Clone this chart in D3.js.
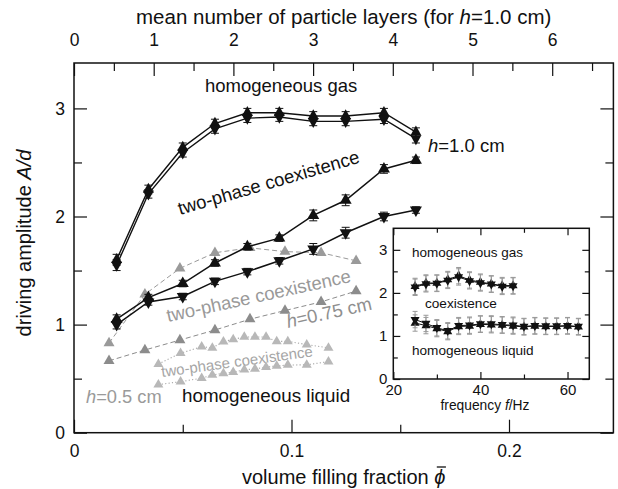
<!DOCTYPE html>
<html><head><meta charset="utf-8">
<script src="https://cdn.jsdelivr.net/npm/d3@7"></script>
<style>
body{margin:0;background:#fff}
svg{display:block}
text{font-family:"Liberation Sans",Arial,Helvetica,sans-serif}
</style>
</head><body>
<svg id="c" width="618" height="489"></svg>
<script>
// ---------- main panel data (h = 1.0 cm, black) ----------
const phiH10 = [0.0196, 0.0342, 0.0500, 0.0648, 0.0797, 0.0944, 0.1100, 0.1249, 0.1425, 0.1572];
const gasUp    = [1.60, 2.25, 2.64, 2.86, 2.96, 2.96, 2.93, 2.93, 2.96, 2.78];
const gasDown  = [1.55, 2.21, 2.59, 2.81, 2.91, 2.92, 2.88, 2.88, 2.90, 2.72];
const gasErr   = [0.05, 0.04, 0.04, 0.04, 0.04, 0.04, 0.04, 0.04, 0.04, 0.04];
const coexUp   = [1.05, 1.25, 1.38, 1.57, 1.72, 1.80, 2.01, 2.15, 2.44, 2.52];
const coexDown = [1.00, 1.21, 1.26, 1.40, 1.49, 1.59, 1.70, 1.85, 2.00, 2.06];
const coexErr  = [0.04, 0.03, 0.03, 0.03, 0.03, 0.03, 0.05, 0.05, 0.04, 0.03];
// ---------- h = 0.75 cm (mid grey, dashed) ----------
const phiH075  = [0.0161, 0.0326, 0.0487, 0.0648, 0.0809, 0.0970, 0.1136, 0.1297];
const upH075   = [0.83, 1.28, 1.52, 1.665, 1.71, 1.675, 1.665, 1.59];
const lowH075  = [0.665, 0.765, 0.857, 0.95, 1.05, 1.13, 1.21, 1.31];
// ---------- h = 0.5 cm (light grey, dotted) ----------
const phiH05   = [0.0388, 0.0490, 0.0587, 0.0636, 0.0687, 0.0732, 0.0783, 0.0832, 0.0883, 0.0932, 0.0983, 0.1070, 0.1170];
const upH05    = [0.635, 0.735, 0.796, 0.785, 0.842, 0.864, 0.885, 0.885, 0.885, 0.845, 0.845, 0.815, 0.785];
const lowH05   = [0.445, 0.472, 0.505, 0.534, 0.549, 0.560, 0.582, 0.590, 0.606, 0.618, 0.626, 0.628, 0.658];
// ---------- inset data ----------
const fGas     = [25, 27.5, 30, 32.5, 35, 37.5, 40, 42.5, 45, 47.5];
const gasInUp  = [2.15, 2.23, 2.23, 2.31, 2.40, 2.30, 2.25, 2.21, 2.17, 2.17];
const gasInDn  = [2.13, 2.21, 2.22, 2.29, 2.37, 2.28, 2.23, 2.20, 2.15, 2.16];
const fLiq     = [25, 27.5, 30, 32.5, 35, 37.5, 40, 42.5, 45, 47.5, 50, 52.5, 55, 57.5, 60, 62.5];
const liqInUp  = [1.30, 1.24, 1.17, 1.10, 1.22, 1.23, 1.27, 1.26, 1.25, 1.23, 1.21, 1.23, 1.22, 1.22, 1.23, 1.21];
const liqInDn  = [1.38, 1.29, 1.19, 1.12, 1.24, 1.25, 1.28, 1.28, 1.26, 1.25, 1.22, 1.24, 1.23, 1.23, 1.24, 1.22];
const insetErr = 0.19;
// ---------- ticks ----------
const xTicksMain  = [0, 0.1, 0.2];
const xMinorMain  = [0.05, 0.15];
const yTicksMain  = [0, 1, 2, 3];
const yMinorMain  = [0.5, 1.5, 2.5];
const topTicks    = [0, 1, 2, 3, 4, 5, 6];
const topMinor    = [0.5, 1.5, 2.5, 3.5, 4.5, 5.5, 6.5];
const xTicksInset = [20, 40, 60];
const xMinorInset = [30, 50];
const yTicksInset = [0, 1, 2, 3];
const yMinorInset = [0.5, 1.5, 2.5];

const svg = d3.select("#c");
const L = 74, R = 613.4, T = 63, B = 432.7;
const x = d3.scaleLinear([0, 0.248], [L, R]);
const y = d3.scaleLinear([0, 3.42], [B, T]);
const xTop = d3.scaleLinear([0, (R - L) / 79.7], [L, R]);

function tri(up, w, h) {
  const a = -2 * h / 3, b = h / 3;
  return up ? `M0,${a}L${w},${b}L${-w},${b}Z` : `M0,${-a}L${w},${-b}L${-w},${-b}Z`;
}

function axisGroup(axis, tx, ty, fs) {
  const g = svg.append("g").attr("transform", `translate(${tx},${ty})`).call(axis);
  g.select(".domain").remove();
  g.selectAll("line").attr("stroke", "#111").attr("stroke-width", 1.2);
  g.selectAll("text").attr("font-size", fs).attr("fill", "#111").attr("font-family", '"Liberation Sans",Arial,sans-serif');
  return g;
}
const fmt = d3.format("");
// main axes
axisGroup(d3.axisBottom(x).tickValues(xTicksMain).tickSize(-13).tickPadding(12).tickFormat(d => d === 0 ? "0" : d3.format(".1f")(d)), 0, B, 17.5);
axisGroup(d3.axisBottom(x).tickValues(xMinorMain).tickSize(-8).tickFormat(""), 0, B, 0);
axisGroup(d3.axisTop(xTop).tickValues(topTicks).tickSize(-13).tickPadding(17).tickFormat(fmt), 0, T, 17.5);
axisGroup(d3.axisTop(xTop).tickValues(topMinor).tickSize(-8).tickFormat(""), 0, T, 0);
axisGroup(d3.axisLeft(y).tickValues(yTicksMain).tickSize(-13).tickPadding(9).tickFormat(fmt), L, 0, 17.5);
axisGroup(d3.axisLeft(y).tickValues(yMinorMain).tickSize(-8).tickFormat(""), L, 0, 0);
axisGroup(d3.axisRight(y).tickValues(yTicksMain).tickSize(-13).tickFormat(""), R, 0, 0);
axisGroup(d3.axisRight(y).tickValues(yMinorMain).tickSize(-8).tickFormat(""), R, 0, 0);
svg.append("rect").attr("x", L).attr("y", T).attr("width", R - L).attr("height", B - T)
  .attr("fill", "none").attr("stroke", "#111").attr("stroke-width", 1.5);

const plot = svg.append("g");
function series(target, xs, ys, opt) {
  const pts = xs.map((v, i) => [opt.sx(v), opt.sy(ys[i]), i]);
  target.append("path").attr("d", d3.line()(pts.map(p => [p[0], p[1]])))
    .attr("fill", "none").attr("stroke", opt.line).attr("stroke-width", opt.lw)
    .attr("stroke-dasharray", opt.dash || null);
  if (opt.err) {
    pts.forEach(p => {
      const e = typeof opt.err === "number" ? opt.err : opt.err[p[2]];
      const y1 = opt.sy(ys[p[2]] + e), y2 = opt.sy(ys[p[2]] - e), c = opt.cap;
      const g = target.append("g").attr("stroke", opt.errColor).attr("stroke-width", opt.elw || 1);
      g.append("line").attr("x1", p[0]).attr("x2", p[0]).attr("y1", y1).attr("y2", y2);
      g.append("line").attr("x1", p[0] - c).attr("x2", p[0] + c).attr("y1", y1).attr("y2", y1);
      g.append("line").attr("x1", p[0] - c).attr("x2", p[0] + c).attr("y1", y2).attr("y2", y2);
    });
  }
  target.append("g").selectAll("path").data(pts).join("path")
    .attr("transform", p => `translate(${p[0]},${p[1]})`)
    .attr("d", tri(opt.up, opt.w, opt.h)).attr("fill", opt.fill);
}
const mainS = {sx: x, sy: y};
// h = 0.5 cm
series(plot, phiH05, upH05, {...mainS, up: true, w: 5, h: 8.5, fill: "#b8b8b8", line: "#a8a8a8", lw: 1.1, dash: "1.2,2.2"});
series(plot, phiH05, lowH05, {...mainS, up: true, w: 5, h: 8.5, fill: "#b8b8b8", line: "#a8a8a8", lw: 1.1, dash: "1.2,2.2"});
// h = 0.75 cm
series(plot, phiH075, upH075, {...mainS, up: true, w: 5.5, h: 9.5, fill: "#9a9a9a", line: "#9a9a9a", lw: 1, dash: "5,3"});
series(plot, phiH075, lowH075, {...mainS, up: true, w: 5.5, h: 9.5, fill: "#8c8c8c", line: "#8c8c8c", lw: 1, dash: "5,3"});
// h = 1.0 cm
series(plot, phiH10, gasUp,   {...mainS, up: true,  w: 5.5, h: 10, fill: "#111", line: "#111", lw: 1.4, err: gasErr, errColor: "#111", cap: 4});
series(plot, phiH10, gasDown, {...mainS, up: false, w: 5.5, h: 10, fill: "#111", line: "#111", lw: 1.4, err: gasErr, errColor: "#111", cap: 4});
series(plot, phiH10, coexUp,  {...mainS, up: true,  w: 6, h: 10.5, fill: "#111", line: "#111", lw: 1.5, err: coexErr, errColor: "#111", cap: 4});
series(plot, phiH10, coexDown,{...mainS, up: false, w: 6, h: 10.5, fill: "#111", line: "#111", lw: 1.5, err: coexErr, errColor: "#111", cap: 4});

// annotations
function label(txt, px, py, fs, color, rot) {
  const t = svg.append("text").attr("transform", `translate(${px},${py}) rotate(${rot || 0})`)
    .attr("font-size", fs).attr("fill", color);
  txt.forEach(s => t.append("tspan").text(s[0]).attr("font-style", s[1] ? "italic" : null));
  return t;
}
label([["homogeneous gas"]], 205, 92, 18.5, "#111");
label([["h", 1], ["=1.0 cm"]], 428, 152, 18.5, "#111");
label([["two-phase coexistence"]], 180, 215, 18.5, "#111", -16.2);
label([["two-phase coexistence"]], 168, 322, 18.5, "#999", -12.3);
label([["h", 1], ["=0.75 cm"]], 288, 328, 18.5, "#8f8f8f", -12.3);
label([["two-phase coexistence"]], 162, 377, 15, "#a6a6a6", -7.8);
label([["h", 1], ["=0.5 cm"]], 86, 403, 18.3, "#9a9a9a");
label([["homogeneous liquid"]], 182, 402, 18.8, "#111");

// axis titles
svg.append("text").attr("x", (L + R) / 2).attr("y", 24).attr("text-anchor", "middle").attr("font-size", 20.5).attr("fill", "#111")
  .call(t => { t.append("tspan").text("mean number of particle layers (for "); t.append("tspan").text("h").attr("font-style", "italic"); t.append("tspan").text("=1.0 cm)"); });
const xt = svg.append("text").attr("x", (L + R) / 2).attr("y", 484).attr("text-anchor", "middle").attr("font-size", 20).attr("fill", "#111");
xt.append("tspan").text("volume filling fraction ");
xt.append("tspan").text("\u03D5").attr("font-style", "italic");
{
  const node = xt.node();
  const n = node.getNumberOfChars();
  const ext = node.getExtentOfChar(n - 1);
  svg.append("line").attr("x1", ext.x + 2.5).attr("x2", ext.x + ext.width + 0.5)
    .attr("y1", ext.y + 1).attr("y2", ext.y + 1).attr("stroke", "#111").attr("stroke-width", 1.3);
}
const yt = svg.append("text").attr("transform", `translate(31,${243}) rotate(-90)`).attr("text-anchor", "middle").attr("font-size", 20).attr("fill", "#111");
yt.append("tspan").text("driving amplitude ");
yt.append("tspan").text("A/d").attr("font-style", "italic");

// ---------- inset ----------
const iL = 393.3, iR = 589.3, iT = 228.3, iB = 379;
const xi = d3.scaleLinear([20, 65], [iL, iR]);
const yi = d3.scaleLinear([0, 3.5], [iB, iT]);
svg.append("rect").attr("x", iL).attr("y", iT).attr("width", iR - iL).attr("height", iB - iT).attr("fill", "#fff");
axisGroup(d3.axisBottom(xi).tickValues(xTicksInset).tickSize(-7).tickPadding(5).tickFormat(fmt), 0, iB, 15);
axisGroup(d3.axisBottom(xi).tickValues(xMinorInset).tickSize(-4.5).tickFormat(""), 0, iB, 0);
axisGroup(d3.axisTop(xi).tickValues(xTicksInset).tickSize(-7).tickFormat(""), 0, iT, 0);
axisGroup(d3.axisTop(xi).tickValues(xMinorInset).tickSize(-4.5).tickFormat(""), 0, iT, 0);
axisGroup(d3.axisLeft(yi).tickValues(yTicksInset).tickSize(-7).tickPadding(6).tickFormat(fmt), iL, 0, 15);
axisGroup(d3.axisLeft(yi).tickValues(yMinorInset).tickSize(-4.5).tickFormat(""), iL, 0, 0);
axisGroup(d3.axisRight(yi).tickValues(yTicksInset).tickSize(-7).tickFormat(""), iR, 0, 0);
axisGroup(d3.axisRight(yi).tickValues(yMinorInset).tickSize(-4.5).tickFormat(""), iR, 0, 0);
svg.append("rect").attr("x", iL).attr("y", iT).attr("width", iR - iL).attr("height", iB - iT)
  .attr("fill", "none").attr("stroke", "#111").attr("stroke-width", 1.5);
const inset = svg.append("g");
const inS = {sx: xi, sy: yi};
series(inset, fGas, gasInUp, {...inS, up: true,  w: 4.5, h: 8, fill: "#111", line: "#111", lw: 1, err: insetErr, errColor: "#999", cap: 2.5});
series(inset, fGas, gasInDn, {...inS, up: false, w: 4.5, h: 8, fill: "#111", line: "#111", lw: 1, err: insetErr, errColor: "#999", cap: 2.5});
series(inset, fLiq, liqInUp, {...inS, up: true,  w: 4.5, h: 8, fill: "#111", line: "#111", lw: 1, err: insetErr, errColor: "#999", cap: 2.5});
series(inset, fLiq, liqInDn, {...inS, up: false, w: 4.5, h: 8, fill: "#111", line: "#111", lw: 1, err: insetErr, errColor: "#999", cap: 2.5});
label([["homogeneous gas"]], 412, 257, 13.5, "#111");
label([["coexistence"]], 425, 308, 13.6, "#111");
label([["homogeneous liquid"]], 412, 355, 13.6, "#111");
const ft = svg.append("text").attr("x", 485).attr("y", 410).attr("text-anchor", "middle").attr("font-size", 13.8).attr("fill", "#111");
ft.append("tspan").text("frequency ");
ft.append("tspan").text("f").attr("font-style", "italic");
ft.append("tspan").text("/Hz");
</script>
</body></html>
